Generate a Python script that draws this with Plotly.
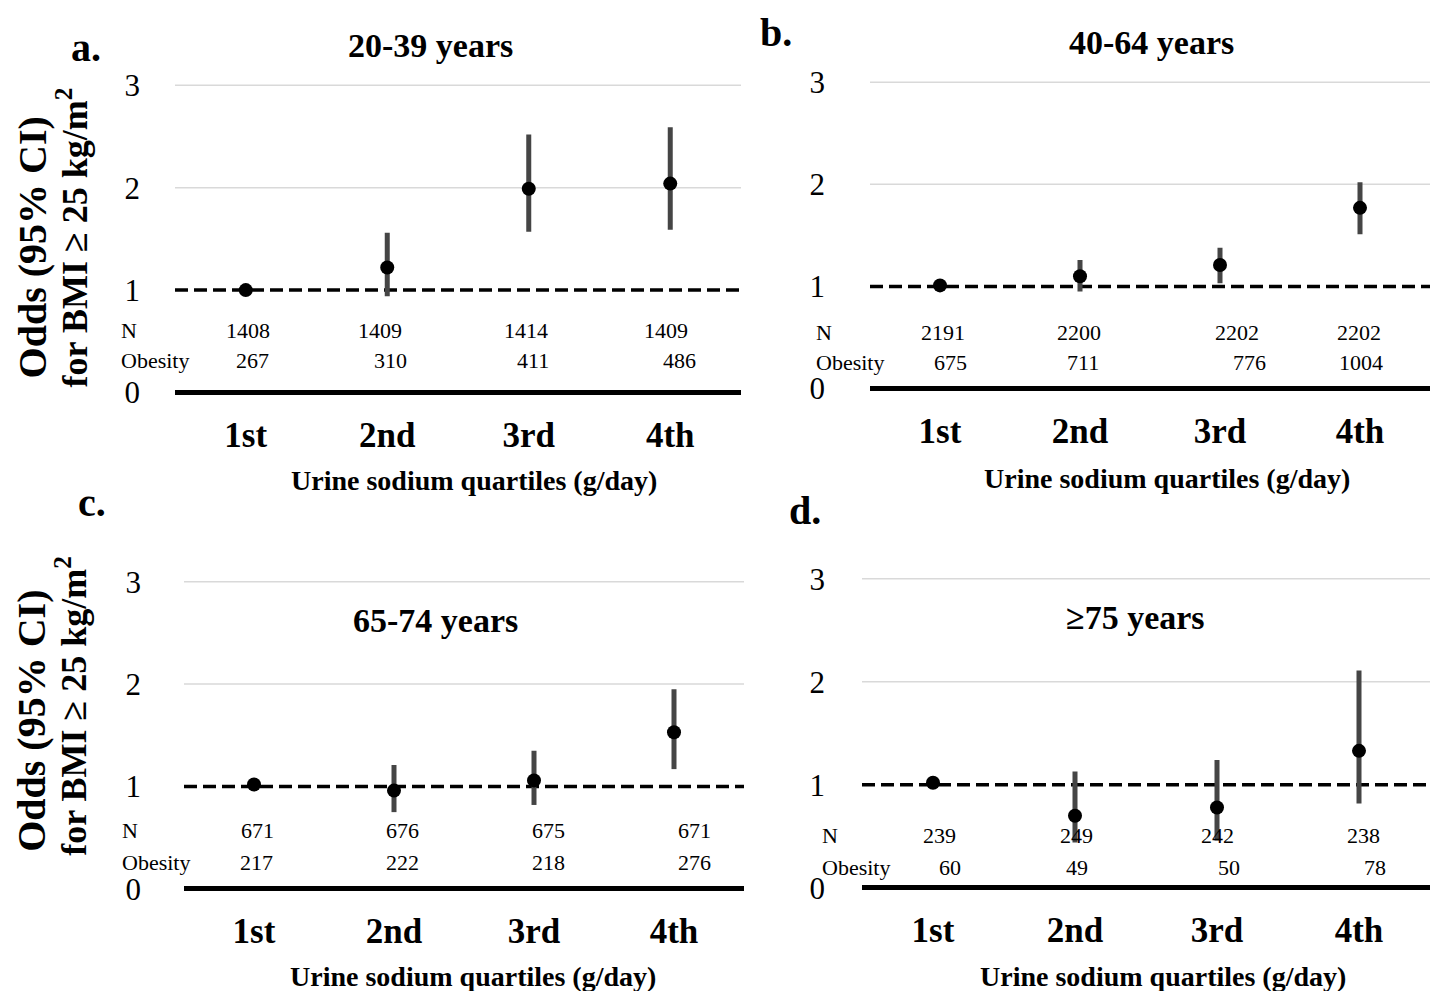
import plotly.graph_objects as go

# ---------------- data ----------------
quartiles = ["1st", "2nd", "3rd", "4th"]
yticks = [0, 1, 2, 3]
panel_letters = ["a.", "b.", "c.", "d."]
panel_titles = ["20-39 years", "40-64 years", "65-74 years", "≥75 years"]
row_labels = ["N", "Obesity"]
x_title = "Urine sodium quartiles (g/day)"
y_title_1 = "Odds (95% CI)"
y_title_2 = "for BMI ≥ 25 kg/m<sup>2</sup>"
ref_value = 1

or_a = [1.00, 1.22, 1.99, 2.04]
lo_a = [1.00, 0.94, 1.57, 1.59]
hi_a = [1.00, 1.56, 2.52, 2.59]
n_a = [1408, 1409, 1414, 1409]
ob_a = [267, 310, 411, 486]

or_b = [1.01, 1.10, 1.21, 1.77]
lo_b = [1.01, 0.95, 1.03, 1.51]
hi_b = [1.01, 1.26, 1.38, 2.02]
n_b = [2191, 2200, 2202, 2202]
ob_b = [675, 711, 776, 1004]

or_c = [1.02, 0.96, 1.06, 1.53]
lo_c = [1.02, 0.75, 0.82, 1.17]
hi_c = [1.02, 1.21, 1.35, 1.95]
n_c = [671, 676, 675, 671]
ob_c = [217, 222, 218, 276]

or_d = [1.02, 0.70, 0.78, 1.33]
lo_d = [1.02, 0.44, 0.46, 0.82]
hi_d = [1.02, 1.13, 1.24, 2.11]
n_d = [239, 249, 242, 238]
ob_d = [60, 49, 50, 78]

series = [
    (or_a, lo_a, hi_a, n_a, ob_a),
    (or_b, lo_b, hi_b, n_b, ob_b),
    (or_c, lo_c, hi_c, n_c, ob_c),
    (or_d, lo_d, hi_d, n_d, ob_d),
]

# ---------------- layout (target pixels) ----------------
W, H = 1450, 991
SERIF = "Liberation Serif, Times New Roman, serif"
# observed vertical mapping of the capture: shown_y = SY * y + OY
SY, OY = 0.98, 6.8


def fy(t):
    """figure-pixel y that is shown at target pixel t"""
    return (t - OY) / SY


panels = [
    dict(x0=175, x1=741, p0=392, p3=85, n_y=330, ob_y=360, lab_x=119, tick_sd=34,
         n_dx=[2, -7, -3, -4], ob_dx=[7, 3, 4, 9],
         letter=(86, 47), title=(430, 45), xt=(474, 480), ytitle=True, ycen=(247, 237)),
    dict(x0=870, x1=1430, p0=388, p3=82, n_y=332, ob_y=362, lab_x=814, tick_sd=44,
         n_dx=[3, -1, 17, -1], ob_dx=[10, 3, 29, 1],
         letter=(776, 32), title=(1151, 42), xt=(1167, 478), ytitle=False),
    dict(x0=184, x1=744, p0=888, p3=581, n_y=830, ob_y=862, lab_x=120, tick_sd=42,
         n_dx=[3, 8, 14, 20], ob_dx=[2, 8, 14, 20],
         letter=(92, 502), title=(435, 620), xt=(473, 975), ytitle=True, ycen=(720, 705)),
    dict(x0=862, x1=1430, p0=887, p3=578, n_y=835, ob_y=867, lab_x=820, tick_sd=36,
         n_dx=[6, 1, 0, 4], ob_dx=[17, 2, 12, 16],
         letter=(805, 510), title=(1135, 617), xt=(1163, 975), ytitle=False),
]

YLO, YHI = -0.06, 3.1

fig = go.Figure()
annotations = []
shapes = []
layout_axes = {}

for i, (p, (orr, lo, hi, nn, ob)) in enumerate(zip(panels, series), start=1):
    p0, p3 = fy(p["p0"]), fy(p["p3"])
    unit = (p0 - p3) / 3.0
    pix_lo = p0 - YLO * unit
    pix_hi = p0 - YHI * unit
    ydom = [1 - pix_lo / H, 1 - pix_hi / H]
    xdom = [p["x0"] / W, p["x1"] / W]
    xa = "x" if i == 1 else f"x{i}"
    ya = "y" if i == 1 else f"y{i}"

    fig.add_trace(go.Scatter(
        x=quartiles, y=orr, xaxis=xa, yaxis=ya, mode="markers",
        marker=dict(size=14, color="black"),
        error_y=dict(type="data", symmetric=False,
                     array=[h - o for h, o in zip(hi, orr)],
                     arrayminus=[o - l for o, l in zip(orr, lo)],
                     thickness=5, width=0, color="#454545"),
        showlegend=False, hoverinfo="skip"))

    layout_axes[f"xaxis{'' if i == 1 else i}"] = dict(
        domain=xdom, anchor=ya, type="category", categoryorder="array",
        categoryarray=quartiles, range=[-0.5, 3.5], showgrid=False, showline=False,
        zeroline=False, ticks="", ticklabelstandoff=12,
        tickfont=dict(family=SERIF, size=35, color="black", weight="bold"))
    layout_axes[f"yaxis{'' if i == 1 else i}"] = dict(
        domain=ydom, anchor=xa, range=[YLO, YHI], tickvals=yticks,
        showgrid=False, showline=False,
        zeroline=True, zerolinecolor="black", zerolinewidth=5, ticks="",
        ticklabelstandoff=p["tick_sd"],
        tickfont=dict(family=SERIF, size=31, color="black"))

    # light gridlines (except at 0 and at the reference line)
    for tv in yticks:
        if tv in (0, ref_value):
            continue
        shapes.append(dict(type="line", xref=f"{xa} domain", yref=ya, x0=0, x1=1,
                           y0=tv, y1=tv, layer="below",
                           line=dict(color="#d9d9d9", width=1.5)))
    # dashed reference line at OR = 1
    shapes.append(dict(type="line", xref=f"{xa} domain", yref=ya, x0=0, x1=1,
                       y0=ref_value, y1=ref_value, layer="below",
                       line=dict(color="black", width=3.5, dash="13px,6px")))

    # N / Obesity rows
    n_ydata = (p0 - fy(p["n_y"])) / unit
    ob_ydata = (p0 - fy(p["ob_y"])) / unit
    for lab, yv in zip(row_labels, [n_ydata, ob_ydata]):
        annotations.append(dict(text=lab, xref="paper", yref=ya, x=p["lab_x"] / W, y=yv,
                                xanchor="left", yanchor="middle", showarrow=False,
                                font=dict(family=SERIF, size=22, color="black")))
    for k, q in enumerate(quartiles):
        annotations.append(dict(text=str(nn[k]), xref=xa, yref=ya, x=q, y=n_ydata,
                                xshift=p["n_dx"][k], showarrow=False, yanchor="middle",
                                font=dict(family=SERIF, size=22, color="black")))
        annotations.append(dict(text=str(ob[k]), xref=xa, yref=ya, x=q, y=ob_ydata,
                                xshift=p["ob_dx"][k], showarrow=False, yanchor="middle",
                                font=dict(family=SERIF, size=22, color="black")))

    # panel letter & title
    annotations.append(dict(text=f"<b>{panel_letters[i-1]}</b>", xref="paper", yref="paper",
                            x=p["letter"][0] / W, y=1 - fy(p["letter"][1]) / H, showarrow=False,
                            xanchor="center", yanchor="middle",
                            font=dict(family=SERIF, size=40, color="black")))
    annotations.append(dict(text=f"<b>{panel_titles[i-1]}</b>", xref="paper", yref="paper",
                            x=p["title"][0] / W, y=1 - fy(p["title"][1]) / H, showarrow=False,
                            xanchor="center", yanchor="middle",
                            font=dict(family=SERIF, size=34, color="black")))
    # x axis title
    annotations.append(dict(text=f"<b>{x_title}</b>", xref="paper", yref="paper",
                            x=p["xt"][0] / W, y=1 - fy(p["xt"][1]) / H, showarrow=False,
                            xanchor="center", yanchor="middle",
                            font=dict(family=SERIF, size=28, color="black")))
    # y axis title
    if p["ytitle"]:
        annotations.append(dict(text=f"<b>{y_title_1}</b>", xref="paper", yref="paper",
                                x=32 / W, y=1 - fy(p["ycen"][0]) / H, showarrow=False,
                                textangle=-90, xanchor="center", yanchor="middle",
                                font=dict(family=SERIF, size=40, color="black")))
        annotations.append(dict(text=f"<b>{y_title_2}</b>", xref="paper", yref="paper",
                                x=72 / W, y=1 - fy(p["ycen"][1]) / H, showarrow=False,
                                textangle=-90, xanchor="center", yanchor="middle",
                                font=dict(family=SERIF, size=36, color="black")))

fig.update_layout(
    width=W, height=H, margin=dict(l=0, r=0, t=0, b=0),
    paper_bgcolor="white", plot_bgcolor="white", showlegend=False,
    annotations=annotations, shapes=shapes, **layout_axes)

fig.write_html(
    "out.html",
    config={"displayModeBar": False},
    post_script=("document.documentElement.style.margin='0px';"
                 "document.body.style.margin='0px';"
                 "document.documentElement.style.overflow='hidden';"
                 "document.body.style.overflow='hidden';"))
